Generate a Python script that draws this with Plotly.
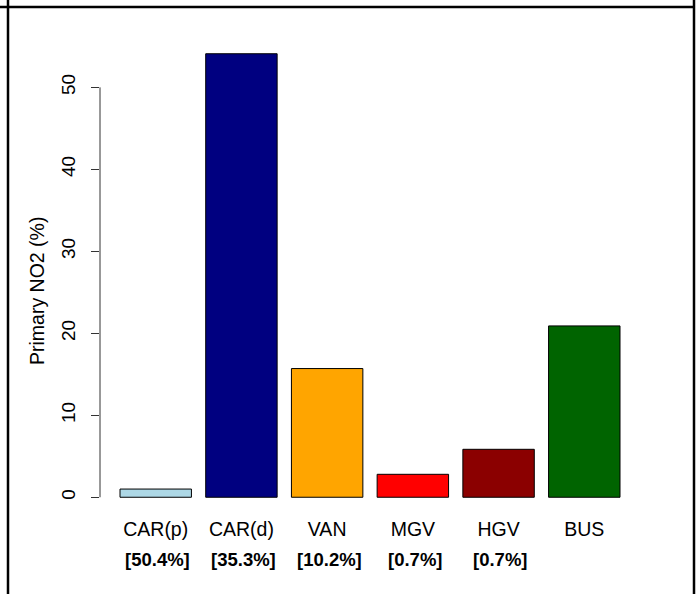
import plotly.graph_objects as go

categories = ["CAR(p)", "CAR(d)", "VAN", "MGV", "HGV", "BUS"]
primary_no2 = [1.0, 54.1, 15.7, 2.8, 5.85, 20.9]
bar_colors = ["#ADD8E6", "#000080", "#FFA500", "#FF0000", "#8B0000", "#006400"]
share_labels = ["[50.4%]", "[35.3%]", "[10.2%]", "[0.7%]", "[0.7%]"]
wrapped_label = "[2.7%]"
y_ticks = [0, 10, 20, 30, 40, 50]

W, H = 698, 594
L, R, T, B = 100, 698 - 640, 36, 594 - 515
x_pos = [0.7 + 1.2 * i for i in range(len(categories))]
ymax = max(primary_no2)
yr = [-0.04 * ymax, 1.04 * ymax]
xr = [0.2 - 0.28, 7.2 + 0.28]

def px2paper_x(px):
    return (px - L) / (W - L - R)

def px2paper_y(py):
    return (H - B - py) / (H - T - B)

def px2data_y(py):
    return yr[0] + (yr[1] - yr[0]) * (H - B - py) / (H - T - B)

FONT = "Liberation Sans, Arial, Helvetica, sans-serif"
FS = 19.5
FSB = 18.5

fig = go.Figure()
fig.add_trace(go.Bar(
    x=x_pos, y=primary_no2, width=1.0,
    marker=dict(color=bar_colors, line=dict(color="black", width=1)),
    showlegend=False, hoverinfo="skip",
))
fig.add_trace(go.Scatter(
    x=[0.28], y=[px2data_y(581)], text=[wrapped_label], mode="text",
    textposition="middle right", cliponaxis=False, showlegend=False,
    textfont=dict(family=FONT, size=FSB, color="black", weight="bold"),
    hoverinfo="skip",
))

annotations = [dict(
    text="Primary NO2 (%)", textangle=-90, xref="paper", yref="paper",
    x=px2paper_x(37), y=px2paper_y(291), showarrow=False,
    font=dict(family=FONT, size=FS, color="black"), xanchor="center", yanchor="middle",
)]
for xv, lab in zip(x_pos, share_labels):
    annotations.append(dict(
        text=lab, xref="x", yref="paper", x=xv + 0.03, y=px2paper_y(559),
        showarrow=False, xanchor="center", yanchor="middle",
        font=dict(family=FONT, size=FSB, color="black", weight="bold"),
    ))

shapes = [
    dict(type="line", xref="x domain", yref="y", x0=0, x1=0, y0=y_ticks[0], y1=y_ticks[-1],
         line=dict(color="#333333", width=1)),
    dict(type="rect", xref="paper", yref="paper", x0=px2paper_x(10), x1=px2paper_x(692),
         y0=px2paper_y(600), y1=px2paper_y(579), fillcolor="white", line=dict(width=0), layer="above"),
    dict(type="line", xref="paper", yref="paper", x0=px2paper_x(8), x1=px2paper_x(8),
         y0=px2paper_y(-2), y1=px2paper_y(600), line=dict(color="black", width=2.5), layer="above"),
    dict(type="line", xref="paper", yref="paper", x0=px2paper_x(694), x1=px2paper_x(694),
         y0=px2paper_y(-2), y1=px2paper_y(600), line=dict(color="black", width=2.5), layer="above"),
    dict(type="line", xref="paper", yref="paper", x0=px2paper_x(-2), x1=px2paper_x(695),
         y0=px2paper_y(7), y1=px2paper_y(7), line=dict(color="black", width=2.5), layer="above"),
]

fig.update_layout(
    width=W, height=H,
    margin=dict(l=L, r=R, t=T, b=B, pad=0),
    paper_bgcolor="white", plot_bgcolor="white",
    font=dict(family=FONT, size=FS, color="black"),
    shapes=shapes,
    annotations=annotations,
    xaxis=dict(range=xr, tickvals=x_pos, ticktext=categories, showgrid=False, zeroline=False,
               showline=False, ticks="", tickfont=dict(size=FS), fixedrange=True),
    yaxis=dict(range=yr, tickvals=y_ticks, showgrid=False, zeroline=False, showline=False,
               ticks="outside", ticklen=8, tickcolor="#333333", tickwidth=1, tickangle=-90,
               ticklabelstandoff=8, tickfont=dict(size=19), fixedrange=True),
)

fig.write_html(
    "out.html",
    config={"displayModeBar": False},
    post_script="document.body.style.margin='0';document.body.style.overflow='hidden';",
)
